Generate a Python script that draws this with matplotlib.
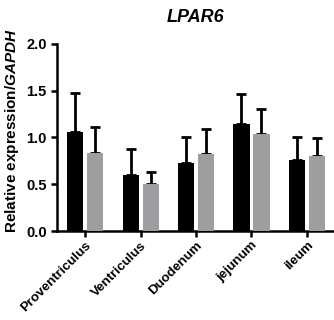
import matplotlib
matplotlib.use("Agg")
import matplotlib.pyplot as plt
import numpy as np

plt.rcParams['font.family'] = ['Liberation Sans', 'DejaVu Sans']
plt.rcParams['mathtext.fontset'] = 'custom'
plt.rcParams['mathtext.rm'] = 'Liberation Sans'
plt.rcParams['mathtext.bf'] = 'Liberation Sans:bold'
plt.rcParams['mathtext.it'] = 'Liberation Sans:italic'
plt.rcParams['mathtext.bfit'] = 'Liberation Sans:bold:italic'

categories = ["Proventriculus", "Ventriculus", "Duodenum", "jejunum", "ileum"]
black_vals = [1.06, 0.60, 0.73, 1.14, 0.76]
black_err = [0.41, 0.28, 0.27, 0.32, 0.25]
gray_vals = [0.83, 0.50, 0.82, 1.04, 0.80]
gray_err = [0.28, 0.13, 0.27, 0.26, 0.19]
yticks = [0.0, 0.5, 1.0, 1.5, 2.0]

fig = plt.figure(figsize=(3.34, 3.2), dpi=100)
ax = fig.add_axes([0.171, 0.278, 0.826, 0.585])
x = np.arange(len(categories))
w = 0.29
off = 0.18
ax.bar(x - off, black_vals, w, color='black', zorder=3)
ax.bar(x + off, gray_vals, w, color='#9e9ea0', zorder=3)
ax.errorbar(x - off, black_vals, yerr=[np.zeros(5), black_err], fmt='none',
            ecolor='black', elinewidth=2, capsize=3.5, capthick=2, zorder=2)
ax.errorbar(x + off, gray_vals, yerr=[np.zeros(5), gray_err], fmt='none',
            ecolor='black', elinewidth=2, capsize=3.5, capthick=2, zorder=2)

ax.set_xlim(-0.505, 4.47)
ax.set_ylim(0, 2.0)
ax.set_yticks(yticks)
ax.set_yticklabels([f"{v:.1f}" for v in yticks], fontsize=10.5, fontweight='bold')
ax.set_xticks(x)
ax.set_xticklabels(categories, rotation=45, ha='right', rotation_mode='anchor',
                   fontsize=9.6, fontweight='bold')
for s in ['top', 'right']:
    ax.spines[s].set_visible(False)
for s in ['left', 'bottom']:
    ax.spines[s].set_linewidth(1.8)
ax.tick_params(axis='both', width=1.8, length=4)
ax.tick_params(axis='x', pad=2)
ax.set_ylabel(r"$\mathbf{Relative\ expression/}\mathbfit{GAPDH}$", fontsize=11)
ax.yaxis.set_label_coords(-0.13, 0.535)
ax.set_title("LPAR6", fontsize=13, fontweight='bold', fontstyle='italic', pad=16)

fig.savefig("out.png", dpi=100)
